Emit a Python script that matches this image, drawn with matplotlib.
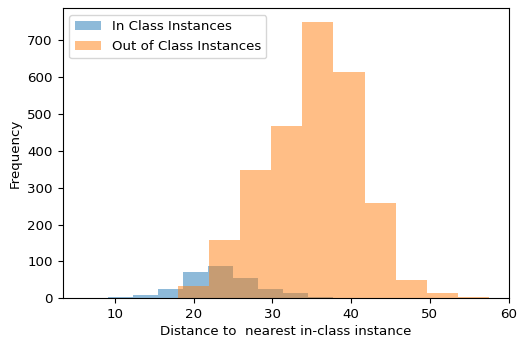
import numpy as np
import matplotlib
matplotlib.use("Agg")
import matplotlib.pyplot as plt

# in-class histogram (10 bins)
in_lo, in_hi = 5.94, 37.72
in_counts = [1, 3, 9, 25, 71, 88, 55, 25, 14, 3]

# out-of-class histogram (10 bins)
out_lo, out_hi = 18.0, 57.5
out_counts = [33, 158, 348, 468, 749, 614, 259, 50, 15, 3]

in_edges = np.linspace(in_lo, in_hi, len(in_counts) + 1)
out_edges = np.linspace(out_lo, out_hi, len(out_counts) + 1)
in_mid = (in_edges[:-1] + in_edges[1:]) / 2
out_mid = (out_edges[:-1] + out_edges[1:]) / 2

plt.rcParams['font.size'] = 9.6

fig = plt.figure(figsize=(5.17, 3.4), dpi=100)
ax = fig.add_axes([0.121, 0.1226, 0.864, 0.853])
ax.hist(in_mid, bins=in_edges, weights=in_counts, alpha=0.5, label="In Class Instances")
ax.hist(out_mid, bins=out_edges, weights=out_counts, alpha=0.5, label="Out of Class Instances")
ax.set_xlabel("Distance to  nearest in-class instance", labelpad=3)
ax.set_ylabel("Frequency")
ax.legend(loc="upper left")
fig.savefig("out.png")
